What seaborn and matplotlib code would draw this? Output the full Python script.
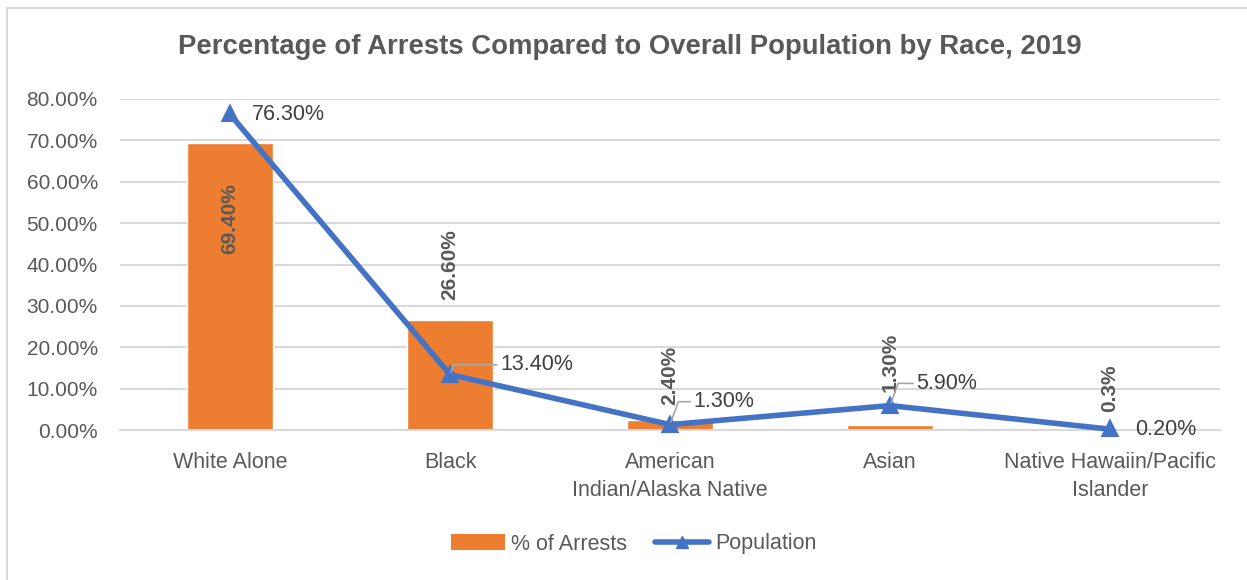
import matplotlib
matplotlib.use("Agg")
import matplotlib.pyplot as plt
import seaborn as sns
import numpy as np
from matplotlib.patches import Rectangle
from matplotlib.lines import Line2D
from matplotlib.patches import Patch

categories = ["White Alone", "Black", "American\nIndian/Alaska Native", "Asian",
              "Native Hawaiin/Pacific\nIslander"]
arrests = [0.694, 0.266, 0.024, 0.013, 0.003]
arrest_labels = ["69.40%", "26.60%", "2.40%", "1.30%", "0.3%"]
population = [0.763, 0.134, 0.013, 0.059, 0.002]
population_labels = ["76.30%", "13.40%", "1.30%", "5.90%", "0.20%"]
yticks = [0.0, 0.1, 0.2, 0.3, 0.4, 0.5, 0.6, 0.7, 0.8]
ytick_labels = ["0.00%", "10.00%", "20.00%", "30.00%", "40.00%", "50.00%",
                "60.00%", "70.00%", "80.00%"]
title = "Percentage of Arrests Compared to Overall Population by Race, 2019"

sns.set_theme(style="white")
plt.rcParams["font.family"] = ["Liberation Sans", "DejaVu Sans"]

TXT = "#595959"
ORANGE = "#ED7D31"
BLUE = "#4472C4"
GRID = "#D9D9D9"

fig = plt.figure(figsize=(12.47, 5.80), dpi=100)
ax = fig.add_axes([120/1247, 1-430/580, 1100/1247, (430-99)/580])

sns.barplot(x=categories, y=arrests, color=ORANGE, width=0.39, saturation=1,
            ax=ax, zorder=2)
sns.pointplot(x=categories, y=population, color=BLUE, markers="^",
              markersize=9, linewidth=4, ax=ax, zorder=4)
for coll in ax.collections:
    coll.set_clip_on(False)
for ln in ax.lines:
    ln.set_clip_on(False)
    ln.set_zorder(4)

ax.set_ylim(0, 0.8)
ax.set_xlim(-0.5, 4.5)
ax.set_yticks(yticks)
ax.set_yticklabels(ytick_labels, fontsize=15, color=TXT)
ax.tick_params(axis="x", labelsize=15.5, labelcolor=TXT, length=0, pad=16)
for t in ax.get_xticklabels():
    t.set_linespacing(1.45)
ax.tick_params(axis="y", length=0, pad=16)
ax.yaxis.grid(True, color=GRID, linewidth=1.5, zorder=0)
ax.set_axisbelow(True)
for s in ["top", "right", "left"]:
    ax.spines[s].set_visible(False)
ax.spines["bottom"].set_color(GRID)
ax.spines["bottom"].set_linewidth(1.5)
ax.set_xlabel("")
ax.set_ylabel("")

# bar labels (rotated)
bar_label_y = [0.50, 0.314, 0.060, 0.092, 0.0435]
for i, (v, lab) in enumerate(zip(arrests, arrest_labels)):
    if i == 0:
        ax.text(i, v * 0.735, lab, rotation=90, ha="center", va="center",
                fontsize=15, fontweight="bold", color=TXT, zorder=5)
    else:
        ax.text(i, bar_label_y[i], lab, rotation=90, ha="center", va="bottom",
                fontsize=15, fontweight="bold", color=TXT, zorder=5)

# population labels with leader lines
offsets = [(16, 0), (36, 7), (17, 16.5), (19, 16), (18, 0)]
for i, (v, lab) in enumerate(zip(population, population_labels)):
    dx, dy = offsets[i]
    ax.annotate(lab, xy=(i, v), xytext=(dx, dy), textcoords="offset points",
                ha="left", va="center", fontsize=15.5, color="#404040", zorder=6,
                arrowprops=dict(arrowstyle="-", color="#A6A6A6", lw=1.2,
                                shrinkA=0, shrinkB=2,
                                connectionstyle="angle,angleA=0,angleB=70,rad=0")
                if i in (1, 2, 3) else None)

fig.text(630/1247, 1-47/580, title, ha="center", va="center", fontsize=19.8,
         fontweight="bold", color=TXT)

handles = [Patch(facecolor=ORANGE, edgecolor="none", label="% of Arrests"),
           Line2D([0], [0], color=BLUE, lw=4, marker="^", markersize=9,
                  label="Population")]
fig.legend(handles=handles, loc="center", bbox_to_anchor=(634/1247, 1-544/580),
           ncol=2, frameon=False, fontsize=15.5, labelcolor=TXT,
           handlelength=2.5, handletextpad=0.3, columnspacing=1.3)

fig.add_artist(Rectangle((7/1247, -0.05), 1.1, 1-8/580 + 0.05,
                         transform=fig.transFigure, fill=False,
                         edgecolor=GRID, linewidth=1.5))

fig.savefig("out.png", dpi=100)
